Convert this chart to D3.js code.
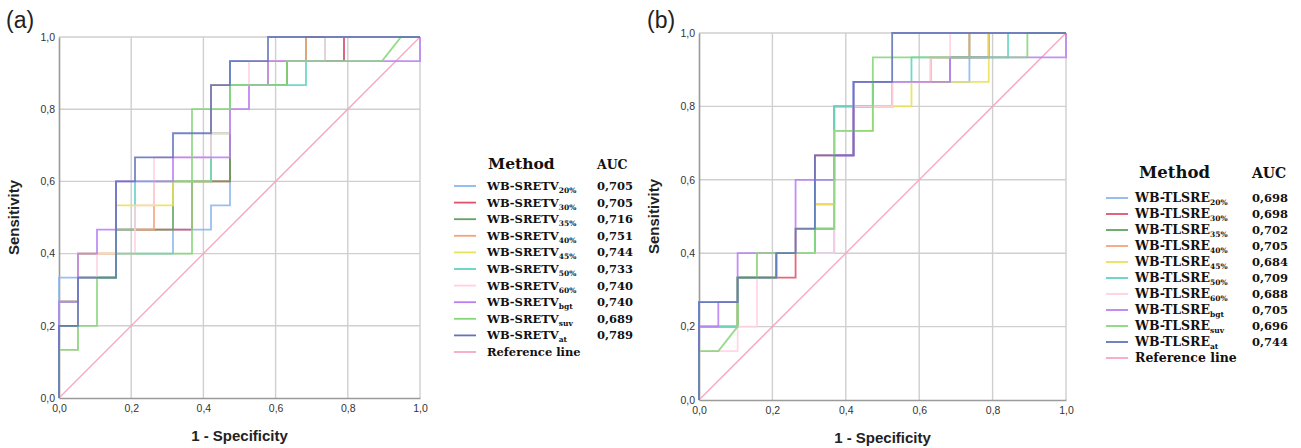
<!DOCTYPE html>
<html>
<head>
<meta charset="utf-8">
<script src="https://cdn.jsdelivr.net/npm/d3@7"></script>
<style>
  body { margin: 0; background: #fff; }
  svg { display: block; }
</style>
</head>
<body>
<svg id="fig" width="1301" height="448"></svg>
<script>
// Sample sizes behind each ROC step: 19 negatives, 15 positives.
const N_NEG = 19;
const N_POS = 15;

const tickValues = [0, 0.2, 0.4, 0.6, 0.8, 1.0];
const tickLabels = ["0,0", "0,2", "0,4", "0,6", "0,8", "1,0"];

const methodSuffixes = ["20%", "30%", "35%", "40%", "45%", "50%", "60%", "bgt", "suv", "at"];
const methodColors = ["#8ab6ee", "#e2516b", "#5fa35f", "#f5a27c", "#e9e158",
                      "#5fd3c4", "#ffd1e2", "#b97ff2", "#86d77a", "#6274ba"];
const referenceColor = "#f6a6be";

// Panel (a): WB-SRETV
const prefixA = "WB-SRETV";
const aucA = ["0,705", "0,705", "0,716", "0,751", "0,744", "0,733", "0,740", "0,740", "0,689", "0,789"];
// ROC curves as [false positives, true positives] counts
const rocA_20 = [[0,0],[0,5],[1,5],[1,6],[6,6],[6,7],[8,7],[8,8],[9,8],[9,14],[15,14],[15,15],[19,15]];
const rocA_30 = [[0,0],[0,4],[1,4],[1,5],[3,5],[3,7],[7,7],[7,9],[9,9],[9,13],[12,13],[12,14],[15,14],[15,15],[19,15]];
const rocA_35 = [[0,0],[0,3],[1,3],[1,5],[3,5],[3,7],[6,7],[6,9],[9,9],[9,13],[12,13],[12,14],[13,14],[13,15],[19,15]];
const rocA_40 = [[0,0],[0,4],[1,4],[1,6],[3,6],[3,7],[5,7],[5,9],[8,9],[8,13],[11,13],[11,14],[13,14],[13,15],[19,15]];
const rocA_45 = [[0,0],[0,4],[1,4],[1,6],[3,6],[3,8],[6,8],[6,9],[8,9],[8,11],[9,11],[9,13],[11,13],[11,14],[14,14],[14,15],[19,15]];
const rocA_50 = [[0,0],[0,4],[1,4],[1,5],[3,5],[3,7],[4,7],[4,9],[8,9],[8,11],[9,11],[9,13],[13,13],[13,14],[14,14],[14,15],[19,15]];
const rocA_60 = [[0,0],[0,2],[1,2],[1,5],[2,5],[2,6],[4,6],[4,8],[5,8],[5,10],[8,10],[8,11],[9,11],[9,12],[10,12],[10,14],[14,14],[14,15],[19,15]];
const rocA_bgt = [[0,0],[0,4],[1,4],[1,6],[2,6],[2,7],[3,7],[3,9],[6,9],[6,10],[9,10],[9,12],[10,12],[10,13],[11,13],[11,14],[19,14],[19,15]];
const rocA_suv = [[0,0],[0,2],[1,2],[1,3],[2,3],[2,5],[3,5],[3,6],[7,6],[7,12],[9,12],[9,13],[12,13],[12,14],[17,14],[18,15],[19,15]];
const rocA_at = [[0,0],[0,3],[1,3],[1,5],[3,5],[3,9],[4,9],[4,10],[6,10],[6,11],[8,11],[8,13],[9,13],[9,14],[11,14],[11,15],[19,15]];

// Panel (b): WB-TLSRE
const prefixB = "WB-TLSRE";
const aucB = ["0,698", "0,698", "0,702", "0,705", "0,684", "0,709", "0,688", "0,705", "0,696", "0,744"];
const rocB_20 = [[0,0],[0,4],[2,4],[2,5],[4,5],[4,6],[7,6],[7,10],[8,10],[8,13],[14,13],[14,14],[15,14],[15,15],[19,15]];
const rocB_30 = [[0,0],[0,3],[2,3],[2,5],[5,5],[5,6],[6,6],[6,10],[8,10],[8,12],[10,12],[10,13],[12,13],[12,14],[15,14],[15,15],[19,15]];
const rocB_35 = [[0,0],[0,3],[2,3],[2,5],[4,5],[4,6],[6,6],[6,7],[7,7],[7,12],[9,12],[9,13],[13,13],[13,14],[14,14],[14,15],[19,15]];
const rocB_40 = [[0,0],[0,3],[2,3],[2,5],[4,5],[4,6],[6,6],[6,8],[7,8],[7,12],[10,12],[10,13],[12,13],[12,14],[14,14],[14,15],[19,15]];
const rocB_45 = [[0,0],[0,3],[2,3],[2,5],[4,5],[4,6],[5,6],[5,7],[6,7],[6,8],[7,8],[7,11],[9,11],[9,12],[11,12],[11,13],[15,13],[15,15],[19,15]];
const rocB_50 = [[0,0],[0,3],[2,3],[2,5],[4,5],[4,6],[6,6],[6,9],[7,9],[7,12],[9,12],[9,13],[11,13],[11,14],[16,14],[16,15],[19,15]];
const rocB_60 = [[0,0],[0,2],[2,2],[2,3],[3,3],[3,6],[7,6],[7,11],[8,11],[8,12],[10,12],[10,13],[12,13],[12,14],[13,14],[13,15],[19,15]];
const rocB_bgt = [[0,0],[0,3],[1,3],[1,4],[2,4],[2,6],[5,6],[5,9],[7,9],[7,10],[8,10],[8,13],[13,13],[13,14],[19,14],[19,15]];
const rocB_suv = [[0,0],[0,2],[1,2],[2,3],[2,5],[3,5],[3,6],[6,6],[6,7],[7,7],[7,11],[9,11],[9,14],[17,14],[17,15],[19,15]];
const rocB_at = [[0,0],[0,4],[2,4],[2,5],[4,5],[4,6],[5,6],[5,7],[6,7],[6,10],[8,10],[8,13],[10,13],[10,15],[19,15]];

const curvesA = [rocA_20, rocA_30, rocA_35, rocA_40, rocA_45, rocA_50, rocA_60, rocA_bgt, rocA_suv, rocA_at];
const curvesB = [rocB_20, rocB_30, rocB_35, rocB_40, rocB_45, rocB_50, rocB_60, rocB_bgt, rocB_suv, rocB_at];

const svg = d3.select("#fig");
const sans = "Arial, 'Liberation Sans', sans-serif";
const serif = "'DejaVu Serif', 'Liberation Serif', serif";

function drawPanel(opts) {
  const { tag, left, top, size, curves, prefix, auc, legend } = opts;
  const x = d3.scaleLinear().domain([0, 1]).range([left, left + size.w]);
  const y = d3.scaleLinear().domain([0, 1]).range([top + size.h, top]);
  const g = svg.append("g");

  // gridlines
  g.append("g").selectAll("line").data(tickValues.slice(1)).join("line")
    .attr("x1", d => x(d)).attr("x2", d => x(d))
    .attr("y1", y(0)).attr("y2", y(1))
    .attr("stroke", "#cfcfcf").attr("stroke-width", 1.4);
  g.append("g").selectAll("line").data(tickValues.slice(1)).join("line")
    .attr("x1", x(0)).attr("x2", x(1))
    .attr("y1", d => y(d)).attr("y2", d => y(d))
    .attr("stroke", "#cfcfcf").attr("stroke-width", 1.4);

  // axes
  const xAxis = d3.axisBottom(x).tickValues(tickValues)
    .tickFormat((d, i) => tickLabels[i]).tickSize(0).tickPadding(7);
  const yAxis = d3.axisLeft(y).tickValues(tickValues)
    .tickFormat((d, i) => tickLabels[i]).tickSize(0).tickPadding(4);
  const gx = g.append("g").attr("transform", `translate(0,${y(0)})`).call(xAxis);
  const gy = g.append("g").attr("transform", `translate(${x(0)},0)`).call(yAxis);
  [gx, gy].forEach(a => {
    a.select(".domain").attr("stroke", "#9a9a9a").attr("stroke-width", 1.6);
    a.selectAll("text").attr("font-family", sans)
      .attr("font-size", 10.5).attr("fill", "#333");
  });

  // reference diagonal
  g.append("line")
    .attr("x1", x(0)).attr("y1", y(0)).attr("x2", x(1)).attr("y2", y(1))
    .attr("stroke", referenceColor).attr("stroke-width", 1.3);

  // ROC curves
  const line = d3.line().x(d => x(d[0] / N_NEG)).y(d => y(d[1] / N_POS));
  curves.forEach((c, i) => {
    g.append("path").datum(c)
      .attr("d", line)
      .attr("fill", "none")
      .attr("stroke", methodColors[i])
      .attr("stroke-width", 1.8)
      .attr("stroke-opacity", 0.88);
  });

  // axis titles
  g.append("text").attr("x", x(0.5)).attr("y", top + size.h + 43)
    .attr("text-anchor", "middle")
    .attr("font-family", sans)
    .attr("font-weight", "bold").attr("font-size", 15).attr("fill", "#222")
    .text("1 - Specificity");
  g.append("text")
    .attr("transform", `translate(${left - 40},${y(0.5)}) rotate(-90)`)
    .attr("text-anchor", "middle")
    .attr("font-family", sans)
    .attr("font-weight", "bold").attr("font-size", 15).attr("fill", "#222")
    .text("Sensitivity");

  // panel tag
  g.append("text").attr("x", opts.tagX).attr("y", opts.tagY)
    .attr("font-family", sans)
    .attr("font-size", 23).attr("fill", "#222")
    .text(tag);

  // legend
  const lg = svg.append("g");
  lg.append("text").attr("x", legend.x + legend.methodX).attr("y", legend.y)
    .attr("font-family", serif).attr("font-weight", "bold").attr("font-size", legend.headSize)
    .attr("fill", "#111").text("Method");
  lg.append("text").attr("x", legend.x + legend.aucX).attr("y", legend.y)
    .attr("font-family", serif).attr("font-weight", "bold").attr("font-size", legend.aucHeadSize)
    .attr("fill", "#111").text("AUC");

  const rows = methodSuffixes.map((s, i) => ({ suffix: s, color: methodColors[i], auc: auc[i] }));
  rows.push({ suffix: null, color: referenceColor, auc: null });

  rows.forEach((r, i) => {
    const ry = legend.y + legend.first + i * legend.step;
    lg.append("line")
      .attr("x1", legend.x).attr("x2", legend.x + 22)
      .attr("y1", ry - 4).attr("y2", ry - 4)
      .attr("stroke", r.color).attr("stroke-width", 1.8);
    const t = lg.append("text").attr("x", legend.x + legend.labelX).attr("y", ry)
      .attr("font-family", serif).attr("font-weight", "bold").attr("font-size", legend.fontSize)
      .attr("fill", "#111");
    if (r.suffix) {
      t.append("tspan").text(prefix);
      t.append("tspan").attr("font-size", 7.5).attr("dy", 3).text(r.suffix);
      lg.append("text").attr("x", legend.x + legend.aucX).attr("y", ry)
        .attr("font-family", serif).attr("font-weight", "bold").attr("font-size", 11.5)
        .attr("fill", "#111").text(r.auc);
    } else {
      t.text("Reference line");
    }
  });
}

drawPanel({
  tag: "(a)", tagX: 6, tagY: 28,
  left: 59, top: 37, size: { w: 361, h: 361 },
  curves: curvesA, prefix: prefixA, auc: aucA,
  legend: { x: 454, y: 169, methodX: 34, aucX: 143, labelX: 33, first: 21, step: 16.6,
            fontSize: 11.5, headSize: 15.5, aucHeadSize: 12.5 }
});

drawPanel({
  tag: "(b)", tagX: 647, tagY: 28,
  left: 699, top: 33, size: { w: 367, h: 367 },
  curves: curvesB, prefix: prefixB, auc: aucB,
  legend: { x: 1106, y: 178, methodX: 33, aucX: 146, labelX: 29, first: 24, step: 16,
            fontSize: 12.5, headSize: 16.5, aucHeadSize: 14 }
});
</script>
</body>
</html>
